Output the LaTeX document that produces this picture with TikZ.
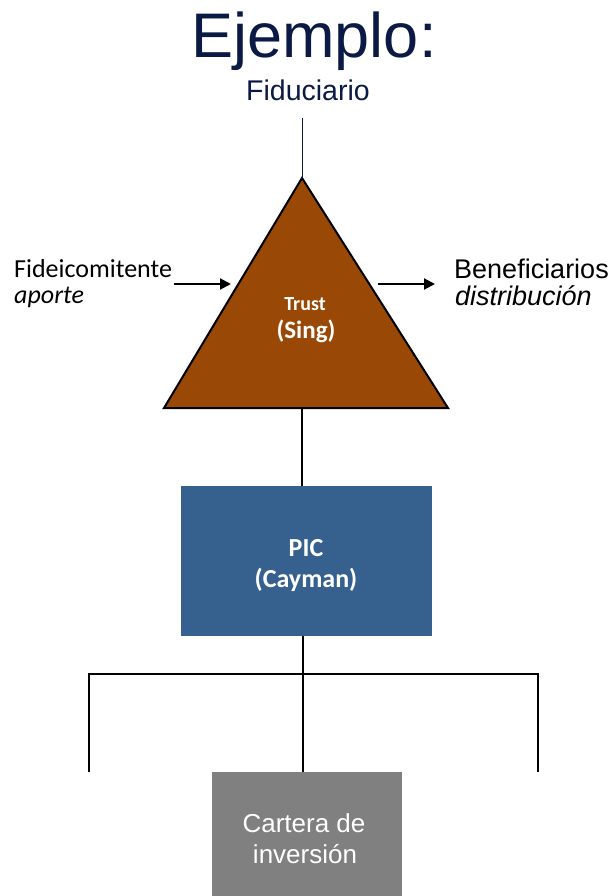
\documentclass[tikz,border=0pt]{standalone}
\usepackage{fontspec}
\setmainfont{Liberation Sans}
\newfontfamily\calib{Carlito}
\usetikzlibrary{arrows.meta}
\definecolor{navy}{HTML}{0B1A45}
\definecolor{trustbrown}{HTML}{994905}
\definecolor{picblue}{HTML}{36618F}
\definecolor{cartgray}{HTML}{808080}

\begin{document}
\begin{tikzpicture}[x=1pt,y=-1pt,
  wire/.style={draw=black,line width=2pt},
  flowarrow/.style={draw=black,line width=2pt,-{Triangle[length=11pt,width=11pt]}},
  whitebold/.style={text=white,anchor=base,inner sep=0pt},
  holder/.style={inner sep=0pt,anchor=base west}]
\useasboundingbox (0,0) rectangle (608,896);
% title
\node[text=navy,font=\fontsize{63}{63}\selectfont,anchor=base] (title) at (314,58) {Ejemplo:};
\node[text=navy,font=\fontsize{28.5}{28.5}\selectfont,anchor=base,inner sep=1pt] (fid) at (308,101) {Fiduciario};
% trust
\coordinate (apex) at (302,178);
\coordinate (bl) at (164,408);
\coordinate (br) at (448,408);
\coordinate (base) at (302,408);
\coordinate (fidend) at (302,118);
\filldraw[fill=trustbrown,draw=black,line width=2pt,line join=miter] (apex) -- (br) -- (bl) -- cycle;
\draw[navy,line width=1pt] (fidend) -- (apex);
\node[whitebold,font=\calib\bfseries\fontsize{20}{20}\selectfont] (trust) at (305,310) {Trust};
\node[whitebold,font=\calib\bfseries\fontsize{25}{25}\selectfont] (sing) at (306,338) {(Sing)};
% left / right
\node[holder,font=\calib\fontsize{26}{26}\selectfont] (fideic) at (14,277) {Fideicomitente};
\node[holder,font=\calib\itshape\fontsize{26}{26}\selectfont] (aporte) at (14,303) {aporte};
\node[holder,font=\fontsize{27}{27}\selectfont] (benef) at (454,278) {Beneficiarios};
\node[holder,font=\itshape\fontsize{27}{27}\selectfont] (distr) at (455,305) {distribución};
\coordinate (inL) at (174,284);
\coordinate (tL) at (231,284);
\coordinate (outR) at (378,284);
\coordinate (inR) at (435,284);
\draw[flowarrow] (inL) -- (tL);
\draw[flowarrow] (outR) -- (inR);
% PIC
\node[fill=picblue,minimum width=251pt,minimum height=150pt,inner sep=0pt] (pic) at (306.5,561) {};
\node[whitebold,font=\calib\bfseries\fontsize{26}{26}\selectfont] (piclbl) at (306,556) {PIC};
\node[whitebold,font=\calib\bfseries\fontsize{26}{26}\selectfont] (caylbl) at (306,587) {(Cayman)};
\draw[wire] (base) -- (pic.north -| base);
% portfolio
\node[fill=cartgray,minimum width=190pt,minimum height=130pt,inner sep=0pt,anchor=north] (cart) at (307,772) {};
\node[whitebold,font=\fontsize{26}{26}\selectfont] (cartlbl) at (304,832) {Cartera de};
\node[whitebold,font=\fontsize{26}{26}\selectfont] (invlbl) at (305,863) {inversión};
\coordinate (split) at (303,674);
\coordinate (lft) at (89,674);
\coordinate (rgt) at (538,674);
\draw[wire] (pic.south -| split) -- (split);
\draw[wire] (89,772) -- (lft) -- (rgt) -- (538,772);
\draw[wire] (split) -- (cart.north -| split);
\end{tikzpicture}
\end{document}
